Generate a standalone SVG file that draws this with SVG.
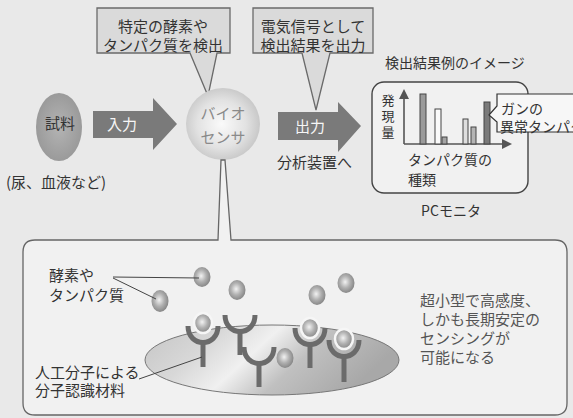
<svg xmlns="http://www.w3.org/2000/svg" width="573" height="418" viewBox="0 0 573 418">
  <defs>
    <radialGradient id="gSphere" cx="0.48" cy="0.5" r="0.55">
      <stop offset="0" stop-color="#fafafa"/>
      <stop offset="0.6" stop-color="#e2e2e2"/>
      <stop offset="1" stop-color="#c4c4c4"/>
    </radialGradient>
    <radialGradient id="gBall" cx="0.45" cy="0.45" r="0.6">
      <stop offset="0" stop-color="#f2f2f2"/>
      <stop offset="0.5" stop-color="#b0b0b0"/>
      <stop offset="1" stop-color="#808080"/>
    </radialGradient>
    <radialGradient id="gSample" cx="0.5" cy="0.5" r="0.6">
      <stop offset="0" stop-color="#b4b4b4"/>
      <stop offset="1" stop-color="#959595"/>
    </radialGradient>
    <linearGradient id="gDisk" x1="0" y1="0" x2="1" y2="0.3">
      <stop offset="0" stop-color="#c4c4c4"/>
      <stop offset="0.3" stop-color="#d8d8d8"/>
      <stop offset="0.5" stop-color="#f0f0f0"/>
      <stop offset="0.7" stop-color="#c0c0c0"/>
      <stop offset="1" stop-color="#a8a8a8"/>
    </linearGradient>
    <g id="cup">
      <path d="M -15,-2 C -15,20 15,20 15,-2" fill="none" stroke="#6b6b6b" stroke-width="5"/>
    </g>
  </defs>
  <style>
    text { font-family: "Noto Sans CJK JP", "Noto Sans", sans-serif; fill: #333; }
    .t15 { font-size: 15px; }
    .t14 { font-size: 14px; }
    .t13 { font-size: 13px; }
    .mid { text-anchor: middle; }
    .white { fill: #f6f6f6; }
    .soft { fill: #8a8a8a; }
    .grey { fill: #555; }
    .callout { fill: #dadada; stroke: #6a6a6a; stroke-width: 1.3; }
    .arrow { fill: #7a7a7a; }
    .bar { stroke: #444; stroke-width: 1; }
    .ball { fill: url(#gBall); }
    .stem { stroke: #6b6b6b; stroke-width: 5; }
    .leader { stroke: #444; stroke-width: 1; fill: none; }
  </style>

  <rect width="573" height="418" fill="#e9e9e9"/>

  <!-- sample -->
  <g id="sample">
    <ellipse cx="59" cy="127" rx="23" ry="34" fill="url(#gSample)"/>
    <text class="t15 mid" x="60" y="129" fill="#444">試料</text>
    <text class="t15" x="6" y="188">(尿、血液など)</text>
  </g>

  <!-- input arrow -->
  <g id="input-arrow">
    <path class="arrow" d="M 93,111 H 153 V 98 L 177,124 L 153,150 V 138 H 93 Z"/>
    <text class="t15 mid white" x="122" y="130">入力</text>
  </g>

  <!-- callout: detects specific enzymes / proteins -->
  <g id="callout-detect">
    <path class="callout" d="M 97,8 H 230 V 53 H 217 L 208,96 L 190,53 H 97 Z"/>
    <text class="t15 mid" x="163" y="32">特定の酵素や</text>
    <text class="t15 mid" x="163" y="51">タンパク質を検出</text>
  </g>

  <!-- biosensor -->
  <g id="biosensor">
    <ellipse cx="223" cy="124" rx="37" ry="36" fill="url(#gSphere)"/>
    <text class="t15 mid soft" x="223" y="119">バイオ</text>
    <text class="t15 mid soft" x="223" y="143">センサ</text>
  </g>

  <!-- callout: output as electric signal -->
  <g id="callout-output">
    <path class="callout" d="M 253,8 H 373 V 53 H 330 L 316,110 L 302,53 H 253 Z"/>
    <text class="t15 mid" x="313" y="32">電気信号として</text>
    <text class="t15 mid" x="313" y="51">検出結果を出力</text>
  </g>

  <!-- output arrow -->
  <g id="output-arrow">
    <path class="arrow" d="M 278,112 H 338 V 102 L 361,126 L 338,152 V 140 H 278 Z"/>
    <text class="t15 mid white" x="310" y="132">出力</text>
    <text class="t15" x="277" y="168">分析装置へ</text>
  </g>

  <!-- PC monitor with result chart -->
  <g id="monitor">
    <text class="t14" x="385" y="68">検出結果例のイメージ</text>
    <rect x="372" y="82" width="156" height="111" rx="12" fill="#f1f1f1" stroke="#444" stroke-width="1.4"/>
    <!-- axes -->
    <path d="M 404,144 V 97 M 404,144 H 503" stroke="#555" stroke-width="1.6" fill="none"/>
    <path d="M 404,89 L 399,99 L 409,99 Z M 512,144 L 502,139 L 502,149 Z" fill="#555"/>
    <!-- bars -->
    <rect class="bar" x="420" y="94" width="6" height="50" fill="#9a9a9a"/>
    <rect class="bar" x="435" y="109" width="6" height="35" fill="#fafafa"/>
    <rect class="bar" x="442" y="137" width="5" height="7" fill="#a4a4a4"/>
    <rect class="bar" x="463" y="119" width="5" height="25" fill="#dedede"/>
    <rect class="bar" x="471" y="127" width="5" height="17" fill="#b4b4b4"/>
    <rect class="bar" x="484" y="102" width="6" height="42" fill="#7a7a7a"/>
    <!-- axis labels -->
    <text class="t13 mid" x="388" y="105">発</text>
    <text class="t13 mid" x="388" y="121">現</text>
    <text class="t13 mid" x="388" y="137">量</text>
    <text class="t14" x="408" y="165">タンパク質の</text>
    <text class="t14" x="408" y="185">種類</text>
    <text class="t14 mid" x="451" y="216">PCモニタ</text>
  </g>

  <!-- callout: abnormal cancer protein -->
  <g id="callout-cancer">
    <path d="M 497,94 H 580 V 132 H 497 V 122 L 489,115 L 497,106 Z" fill="#f7f7f7" stroke="#333" stroke-width="1.2"/>
    <text class="t14" x="501" y="114">ガンの</text>
    <text class="t14" x="500" y="132">異常タンパク</text>
  </g>

  <!-- detail panel with tail toward the biosensor -->
  <g id="detail-panel">
    <path d="M 35,240 H 218 L 221,160 L 225,160 L 231,240 H 555 Q 567,240 567,252 V 403 Q 567,415 555,415 H 35 Q 23,415 23,403 V 252 Q 23,240 35,240 Z" fill="#f1f1f1" stroke="#666" stroke-width="1.3"/>
  </g>

  <!-- recognition surface -->
  <g id="surface">
    <ellipse cx="272" cy="360" rx="127" ry="35" fill="url(#gDisk)" stroke="#777" stroke-width="1"/>
  </g>

  <!-- receptors (Y shaped recognition molecules) -->
  <g id="receptors">
    <line class="stem" x1="203" y1="340" x2="203" y2="367"/>
    <use href="#cup" x="203" y="328"/>
    <line class="stem" x1="240" y1="329" x2="240" y2="355"/>
    <use href="#cup" x="240" y="317"/>
    <line class="stem" x1="259" y1="361" x2="259" y2="387"/>
    <use href="#cup" x="259" y="349"/>
    <line class="stem" x1="310" y1="342" x2="310" y2="368"/>
    <use href="#cup" x="310" y="330"/>
    <line class="stem" x1="344" y1="354" x2="344" y2="382"/>
    <use href="#cup" x="344" y="342"/>
  </g>

  <!-- enzymes / proteins -->
  <g id="proteins">
    <ellipse class="ball" cx="202" cy="277" rx="8.5" ry="10"/>
    <ellipse class="ball" cx="160" cy="301" rx="8.5" ry="11"/>
    <ellipse class="ball" cx="237" cy="290" rx="8.5" ry="10"/>
    <ellipse class="ball" cx="317" cy="295" rx="8.5" ry="10"/>
    <ellipse class="ball" cx="346" cy="283" rx="8.5" ry="10"/>
    <ellipse class="ball" cx="285" cy="358" rx="8.5" ry="10"/>
    <ellipse class="ball" cx="203" cy="323" rx="9" ry="10" stroke="#f6f6f6" stroke-width="2.5"/>
    <ellipse class="ball" cx="310" cy="328" rx="9" ry="10" stroke="#f6f6f6" stroke-width="2.5"/>
    <ellipse class="ball" cx="344" cy="339" rx="9" ry="10" stroke="#f6f6f6" stroke-width="2.5"/>
  </g>

  <!-- panel labels and leaders -->
  <g id="panel-labels">
    <text class="t15" x="49" y="281">酵素や</text>
    <text class="t15" x="49" y="301">タンパク質</text>
    <path class="leader" d="M 113,277 L 199,278 M 113,278 L 156,299"/>
    <text class="t15" x="35" y="378">人工分子による</text>
    <text class="t15" x="35" y="396">分子認識材料</text>
    <path class="leader" d="M 139,379 L 202,357"/>
    <text class="t15 grey" x="420" y="306">超小型で高感度、</text>
    <text class="t15 grey" x="420" y="325">しかも長期安定の</text>
    <text class="t15 grey" x="420" y="344">センシングが</text>
    <text class="t15 grey" x="420" y="363">可能になる</text>
  </g>
</svg>
